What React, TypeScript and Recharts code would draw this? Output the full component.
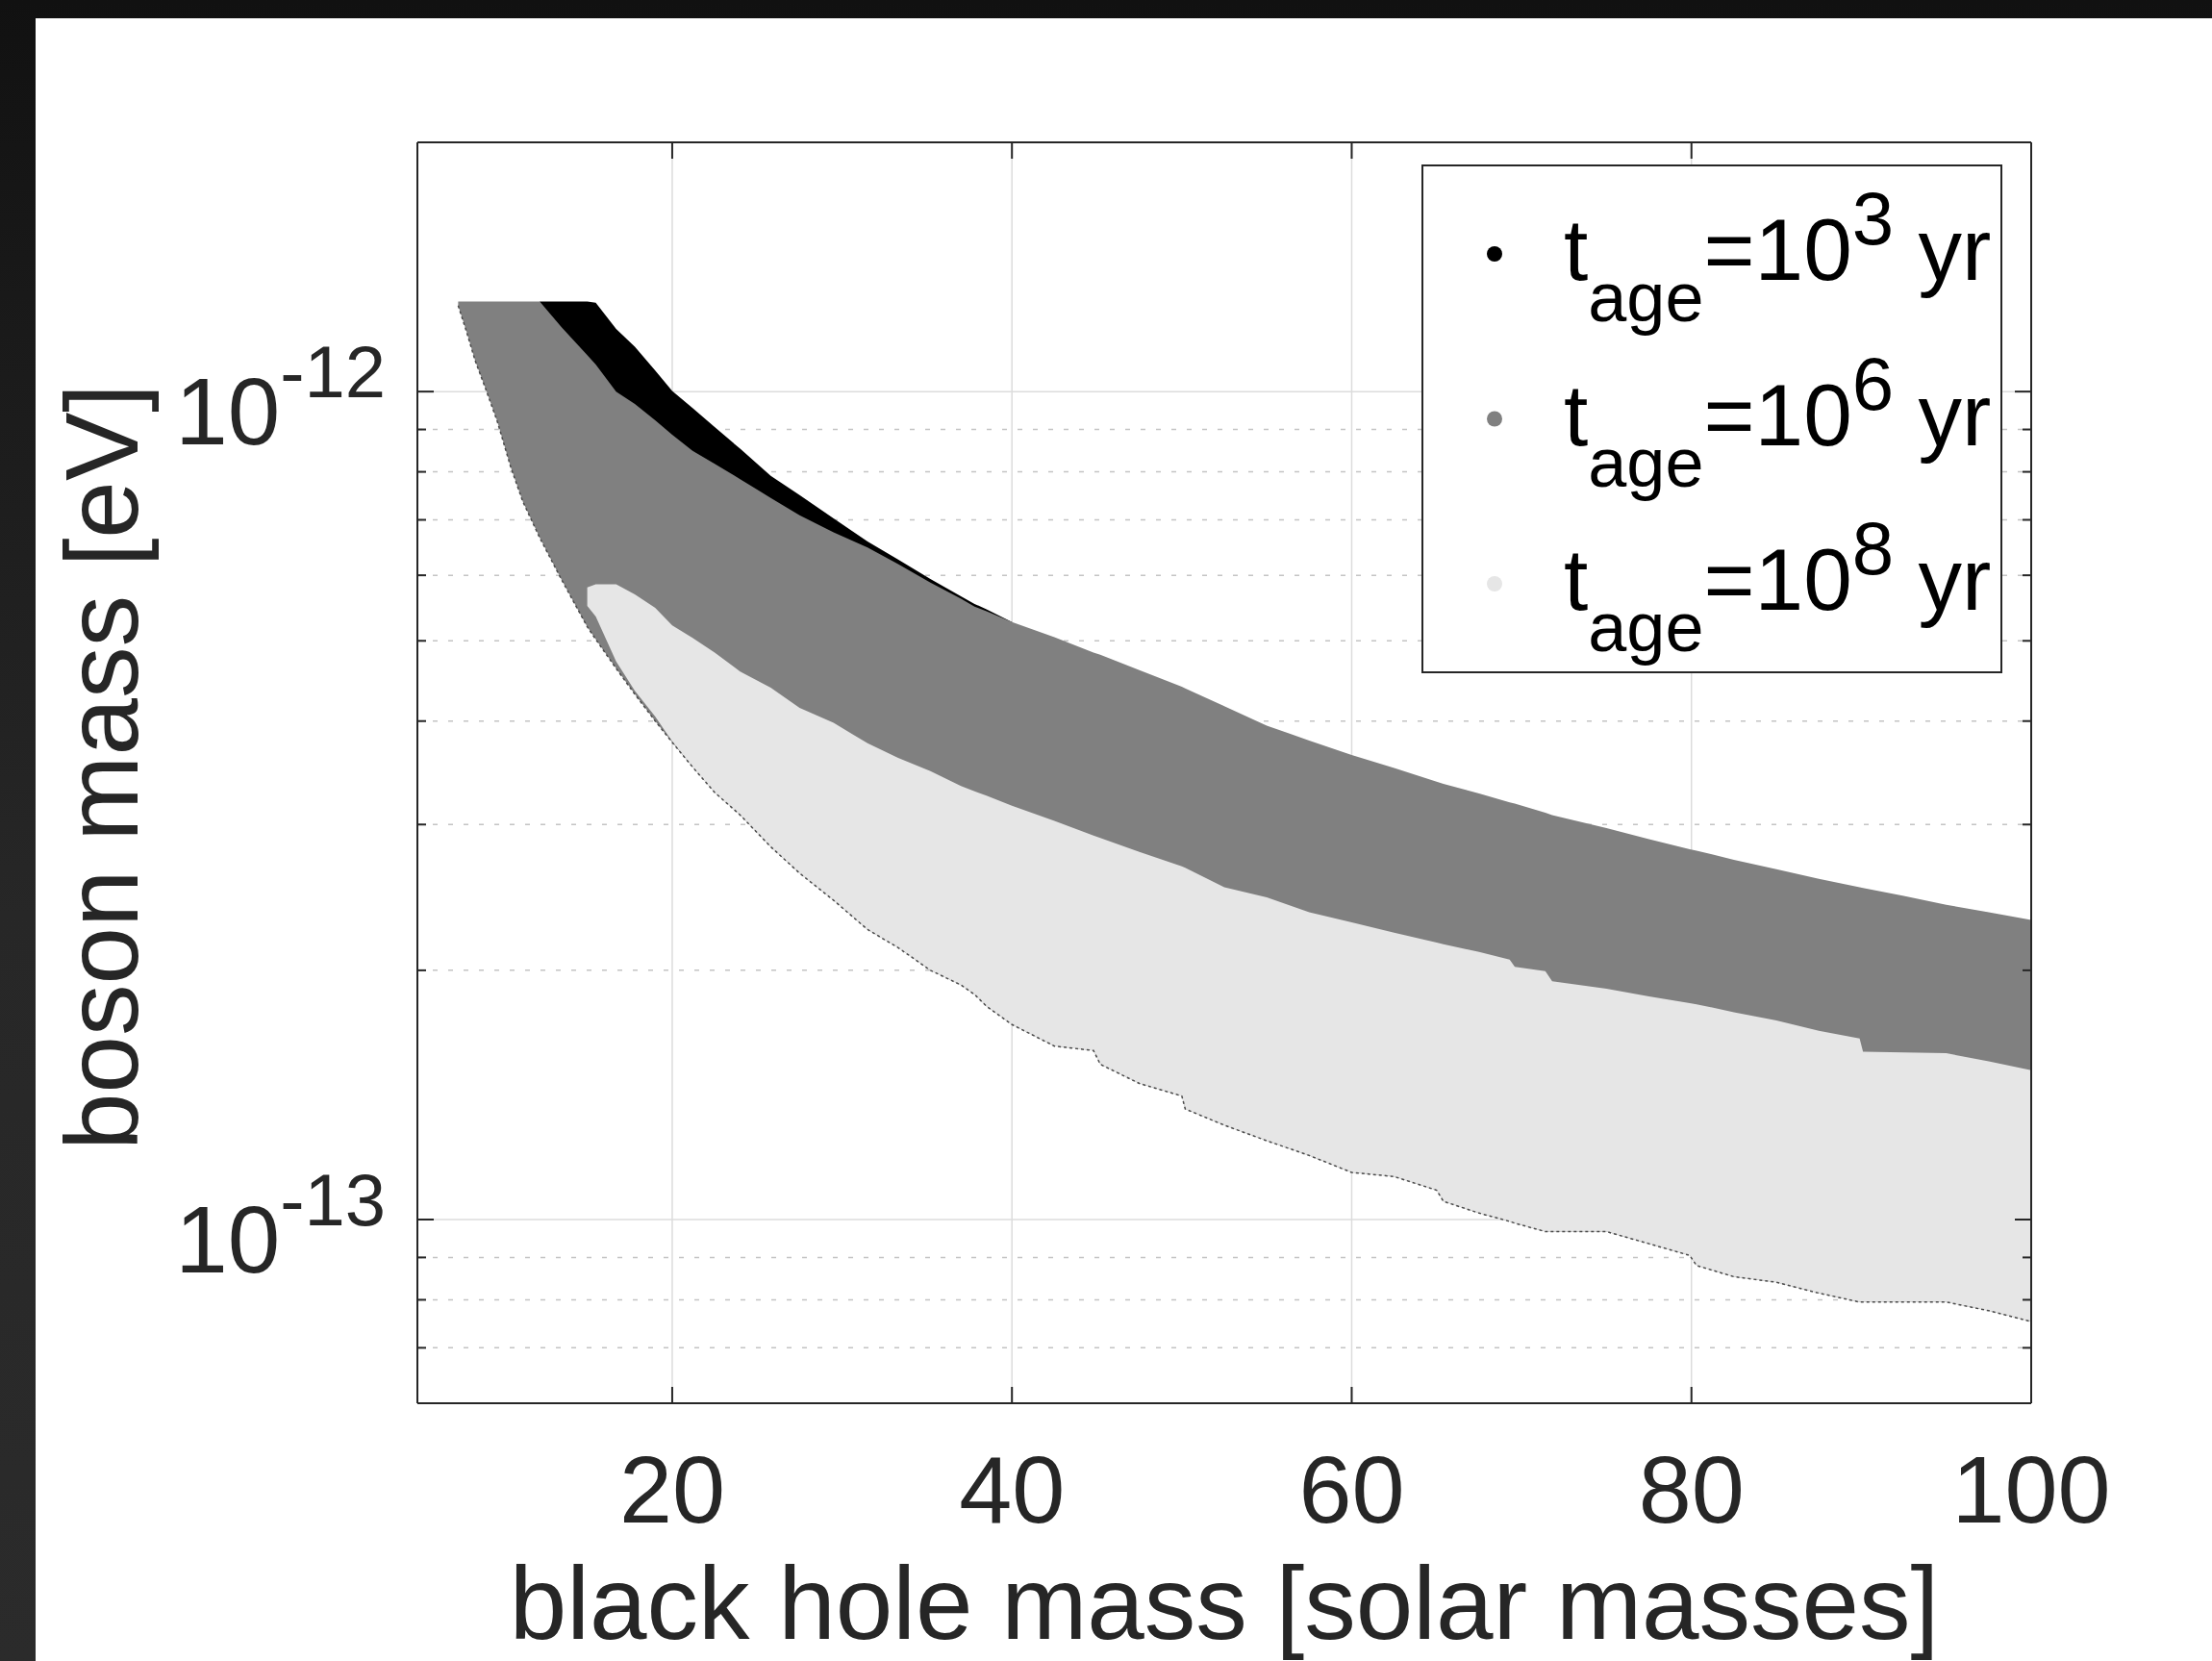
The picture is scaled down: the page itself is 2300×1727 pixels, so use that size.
import React from 'react';
import { ComposedChart, Area, Line, XAxis, YAxis, CartesianGrid, Legend } from 'recharts';

// Boson-mass values below are given in units of 1e-13 eV.
const UNIT = 1e-13;

// black hole mass [solar masses]
const bhMass = [
  7.4, 7.9, 8.4, 9.0, 9.7, 10.5, 11.2, 12.2, 13.5, 15.0,
  15.5, 16.7, 17.8, 19.0, 20.0, 21.2, 22.5, 24.0, 25.8, 27.5,
  29.5, 31.5, 33.3, 35.2, 37.0, 37.8, 38.5, 40.0, 42.5, 44.8,
  45.2, 47.5, 50.0, 50.2, 52.5, 55.0, 57.5, 60.0, 62.5, 65.0,
  65.4, 67.5, 69.3, 69.6, 71.4, 71.8, 75.0, 77.5, 79.9, 80.3,
  82.5, 85.0, 87.5, 89.9, 90.1, 92.5, 95.0, 97.5, 100,
];

// t_age = 10^3 yr  (black)
const age3Low = [
  null, null, null, null, null, null, null, 12.6, 11.0, 10.2,
  9.9, 9.2, 8.9, 8.5, 8.2, 7.8, 7.5, 7.2, 6.9, 6.6,
  6.3, 6.0, 5.8, 5.5, 5.3, 5.2, 5.1, 5.1, null, null,
  null, null, null, null, null, null, null, null, null, null,
  null, null, null, null, null, null, null, null, null, null,
  null, null, null, null, null, null, null, null, null,
];
const age3High = [
  null, null, null, null, null, null, null, 12.85, 12.85, 12.85,
  12.8, 11.9, 11.33, 10.6, 10.02, 9.55, 9.06, 8.53, 7.91, 7.5,
  7.03, 6.59, 6.27, 5.94, 5.66, 5.54, 5.46, 5.27, null, null,
  null, null, null, null, null, null, null, null, null, null,
  null, null, null, null, null, null, null, null, null, null,
  null, null, null, null, null, null, null, null, null,
];

// t_age = 10^6 yr  (grey)
const age6Low = [
  12.7, 11.8, 10.9, 10.1, 9.21, 8.1, 7.37, 6.66, 5.92, 5.2,
  5.02, 4.63, 4.31, 4.0, 3.77, 3.52, 3.28, 3.08, 2.82, 2.62,
  2.43, 2.24, 2.13, 2.0, 1.92, 1.87, 1.81, 1.72, 1.62, 1.6,
  1.54, 1.46, 1.41, 1.36, 1.3, 1.245, 1.195, 1.14, 1.127, 1.085,
  1.052, 1.018, 0.995, 0.99, 0.967, 0.967, 0.967, 0.935, 0.905, 0.88,
  0.853, 0.84, 0.815, 0.795, 0.795, 0.795, 0.795, 0.776, 0.753,
];
const age6High = [
  12.85, 12.85, 12.85, 12.85, 12.85, 12.85, 12.85, 12.85, 11.95, 11.07,
  10.78, 10.0, 9.66, 9.23, 8.87, 8.48, 8.18, 7.84, 7.44, 7.09,
  6.76, 6.48, 6.19, 5.88, 5.62, 5.5, 5.43, 5.27, 5.05, 4.84,
  4.81, 4.61, 4.4, 4.38, 4.17, 3.95, 3.79, 3.64, 3.51, 3.38,
  3.36, 3.27, 3.19, 3.18, 3.1, 3.08, 2.97, 2.88, 2.8, 2.79,
  2.72, 2.65, 2.58, 2.52, 2.515, 2.46, 2.4, 2.35, 2.3,
];

// t_age = 10^8 yr  (light grey)
const age8Low = [
  null, null, null, null, null, null, null, null, null, 5.51,
  5.35, 4.72, 4.35, 4.05, 3.78, 3.52, 3.28, 3.08, 2.82, 2.62,
  2.43, 2.24, 2.13, 2.0, 1.92, 1.87, 1.81, 1.72, 1.62, 1.6,
  1.54, 1.46, 1.41, 1.36, 1.3, 1.245, 1.195, 1.14, 1.127, 1.085,
  1.052, 1.018, 0.995, 0.99, 0.967, 0.967, 0.967, 0.935, 0.905, 0.88,
  0.853, 0.84, 0.815, 0.795, 0.795, 0.795, 0.795, 0.776, 0.753,
];
const age8High = [
  null, null, null, null, null, null, null, null, null, 5.8,
  5.85, 5.85, 5.69, 5.48, 5.22, 5.04, 4.84, 4.59, 4.39, 4.15,
  3.98, 3.76, 3.61, 3.48, 3.34, 3.29, 3.25, 3.16, 3.03, 2.91,
  2.89, 2.78, 2.67, 2.66, 2.52, 2.45, 2.35, 2.285, 2.22, 2.16,
  2.15, 2.105, 2.06, 2.02, 1.995, 1.94, 1.9, 1.86, 1.825, 1.82,
  1.78, 1.74, 1.69, 1.655, 1.595, 1.592, 1.588, 1.553, 1.515,
];

const legendExponents = ['3', '6', '8'];
const seriesColors = ['#000000', '#808080', '#e6e6e6'];

const xTicks = [20, 40, 60, 80, 100];
const xGridValues = [20, 40, 60, 80];
const yTicksMajor = [1e-13, 1e-12];
const yTicksMinor = [7e-14, 8e-14, 9e-14, 2e-13, 3e-13, 4e-13, 5e-13, 6e-13, 7e-13, 8e-13, 9e-13];
const yTicks = [7e-14, 8e-14, 9e-14, 1e-13, 2e-13, 3e-13, 4e-13, 5e-13, 6e-13, 7e-13, 8e-13, 9e-13, 1e-12];
const xDomain = [5, 100];
const yDomain = [6e-14, 2e-12];

const pair = (lo: any[], hi: any[], i: number) =>
  lo[i] == null || hi[i] == null ? null : [lo[i] * UNIT, hi[i] * UNIT];

const data = bhMass.map((x, i) => ({
  x,
  t3: pair(age3Low, age3High, i),
  t6: pair(age6Low, age6High, i),
  t8: pair(age8Low, age8High, i),
  edge: age6Low[i] * UNIT,
}));

const FONT = '"Liberation Sans", Arial, Helvetica, sans-serif';
const AXIS = '#262626';
const MAJOR_LEN = 17;
const MINOR_LEN = 9;

const isDecade = (v: number) => Math.abs(Math.log10(v) - Math.round(Math.log10(v))) < 1e-6;

function BottomTick(props: any) {
  const { x, y, payload } = props;
  return (
    <g>
      <line x1={x} x2={x} y1={y} y2={y - MAJOR_LEN} stroke={AXIS} strokeWidth={2} />
      <text x={x} y={y + 124} textAnchor="middle" fontSize={99} fontFamily={FONT} fill={AXIS}>
        {payload.value}
      </text>
    </g>
  );
}

function TopTick(props: any) {
  const { x, y } = props;
  return <line x1={x} x2={x} y1={y} y2={y + MAJOR_LEN} stroke={AXIS} strokeWidth={2} />;
}

function LeftTick(props: any) {
  const { x, y, payload } = props;
  const v = payload.value;
  const major = isDecade(v);
  const exp = Math.round(Math.log10(v));
  return (
    <g>
      <line x1={x} x2={x + (major ? MAJOR_LEN : MINOR_LEN)} y1={y} y2={y} stroke={AXIS} strokeWidth={2} />
      {major && (
        <text x={x - 33} y={y + 55} textAnchor="end" fontFamily={FONT} fill={AXIS}>
          <tspan fontSize={98}>10</tspan>
          <tspan fontSize={76} dy={-49}>{`${exp}`}</tspan>
        </text>
      )}
    </g>
  );
}

function RightTick(props: any) {
  const { x, y, payload } = props;
  const major = isDecade(payload.value);
  return <line x1={x} x2={x - (major ? MAJOR_LEN : MINOR_LEN)} y1={y} y2={y} stroke={AXIS} strokeWidth={2} />;
}

function XTitle(props: any) {
  const vb = props.viewBox || { x: 434, y: 1459, width: 1678, height: 30 };
  return (
    <text x={vb.x + vb.width / 2} y={vb.y + 245} textAnchor="middle" fontSize={107} fontFamily={FONT} fill={AXIS}>
      black hole mass [solar masses]
    </text>
  );
}

function YTitle(props: any) {
  const vb = props.viewBox || { x: 334, y: 148, width: 100, height: 1311 };
  const x = vb.x + vb.width - 291;
  const y = vb.y + vb.height / 2 - 6;
  return (
    <text x={x} y={y} transform={`rotate(-90 ${x} ${y})`} textAnchor="middle" fontSize={107} fontFamily={FONT} fill={AXIS}>
      boson mass [eV]
    </text>
  );
}

function LegendBox() {
  return (
    <svg width={604} height={529} style={{ display: 'block' }}>
      <rect x={1} y={1} width={602} height={527} fill="#ffffff" stroke={AXIS} strokeWidth={2} />
      {legendExponents.map((e, i) => {
        const cy = 93 + i * 171.5;
        const base = 120 + i * 171.5;
        return (
          <g key={e}>
            <circle cx={76} cy={cy} r={8} fill={seriesColors[i]} />
            <text x={148} y={base} fontFamily={FONT} fontSize={91} fill="#000" style={{ whiteSpace: 'pre' }}>
              <tspan>t</tspan>
              <tspan fontSize={72} dy={43}>age</tspan>
              <tspan dy={-43}>=10</tspan>
              <tspan fontSize={78} dy={-37}>{e}</tspan>
              <tspan dy={37}>{' yr'}</tspan>
            </text>
          </g>
        );
      })}
    </svg>
  );
}

export default function App() {
  return (
    <div
      style={{
        position: 'absolute',
        left: 0,
        top: 0,
        width: 2300,
        height: 1727,
        overflow: 'hidden',
        background: 'linear-gradient(to bottom, #111111 0%, #1a1a1a 20%, #272727 55%, #2b2b2b 100%)',
      }}
    >
      <div style={{ position: 'absolute', left: 37, top: 19, right: 0, bottom: 0, background: '#ffffff' }} />
      <div style={{ position: 'absolute', left: 0, top: 0 }}>
        <ComposedChart width={2300} height={1727} data={data} margin={{ top: 138, right: 178, bottom: 238, left: 334 }}>
          <CartesianGrid
            stroke="#dcdcdc"
            strokeWidth={1.5}
            horizontalValues={yTicksMajor}
            verticalValues={xGridValues}
          />
          <CartesianGrid
            stroke="#c4c4c4"
            strokeWidth={1.5}
            strokeDasharray="5 11"
            vertical={false}
            horizontalValues={yTicksMinor}
          />
          <XAxis
            dataKey="x"
            type="number"
            domain={xDomain}
            allowDataOverflow
            ticks={xTicks}
            interval={0}
            height={30}
            tickLine={false}
            tickSize={0}
            tickMargin={0}
            axisLine={{ stroke: AXIS, strokeWidth: 2 }}
            tick={(p: any) => <BottomTick {...p} />}
            label={<XTitle />}
          />
          <XAxis
            xAxisId="t"
            orientation="top"
            dataKey="x"
            type="number"
            domain={xDomain}
            allowDataOverflow
            ticks={xTicks}
            interval={0}
            height={10}
            tickLine={false}
            tickSize={0}
            tickMargin={0}
            axisLine={{ stroke: AXIS, strokeWidth: 2 }}
            tick={(p: any) => <TopTick {...p} />}
          />
          <YAxis
            type="number"
            scale="log"
            domain={yDomain}
            allowDataOverflow
            ticks={yTicks}
            interval={0}
            width={100}
            tickLine={false}
            tickSize={0}
            tickMargin={0}
            axisLine={{ stroke: AXIS, strokeWidth: 2 }}
            tick={(p: any) => <LeftTick {...p} />}
            label={<YTitle />}
          />
          <YAxis
            yAxisId="r"
            orientation="right"
            type="number"
            scale="log"
            domain={yDomain}
            allowDataOverflow
            ticks={yTicks}
            interval={0}
            width={10}
            tickLine={false}
            tickSize={0}
            tickMargin={0}
            axisLine={{ stroke: AXIS, strokeWidth: 2 }}
            tick={(p: any) => <RightTick {...p} />}
          />
          <Area
            type="linear"
            dataKey="t3"
            name="t_age=10^3 yr"
            stroke="none"
            fill={seriesColors[0]}
            fillOpacity={1}
            dot={false}
            activeDot={false}
            isAnimationActive={false}
          />
          <Area
            type="linear"
            dataKey="t6"
            name="t_age=10^6 yr"
            stroke="none"
            fill={seriesColors[1]}
            fillOpacity={1}
            dot={false}
            activeDot={false}
            isAnimationActive={false}
          />
          <Area
            type="linear"
            dataKey="t8"
            name="t_age=10^8 yr"
            stroke="none"
            fill={seriesColors[2]}
            fillOpacity={1}
            dot={false}
            activeDot={false}
            isAnimationActive={false}
          />
          <Line
            type="linear"
            dataKey="edge"
            stroke="#4a4a4a"
            strokeWidth={1.5}
            strokeDasharray="3 3"
            dot={false}
            activeDot={false}
            legendType="none"
            isAnimationActive={false}
          />
          <Legend
            layout="horizontal"
            verticalAlign="middle"
            align="center"
            width={604}
            height={529}
            wrapperStyle={{ left: 1478, top: 171, width: 604, height: 529 }}
            content={() => <LegendBox />}
          />
        </ComposedChart>
      </div>
    </div>
  );
}
